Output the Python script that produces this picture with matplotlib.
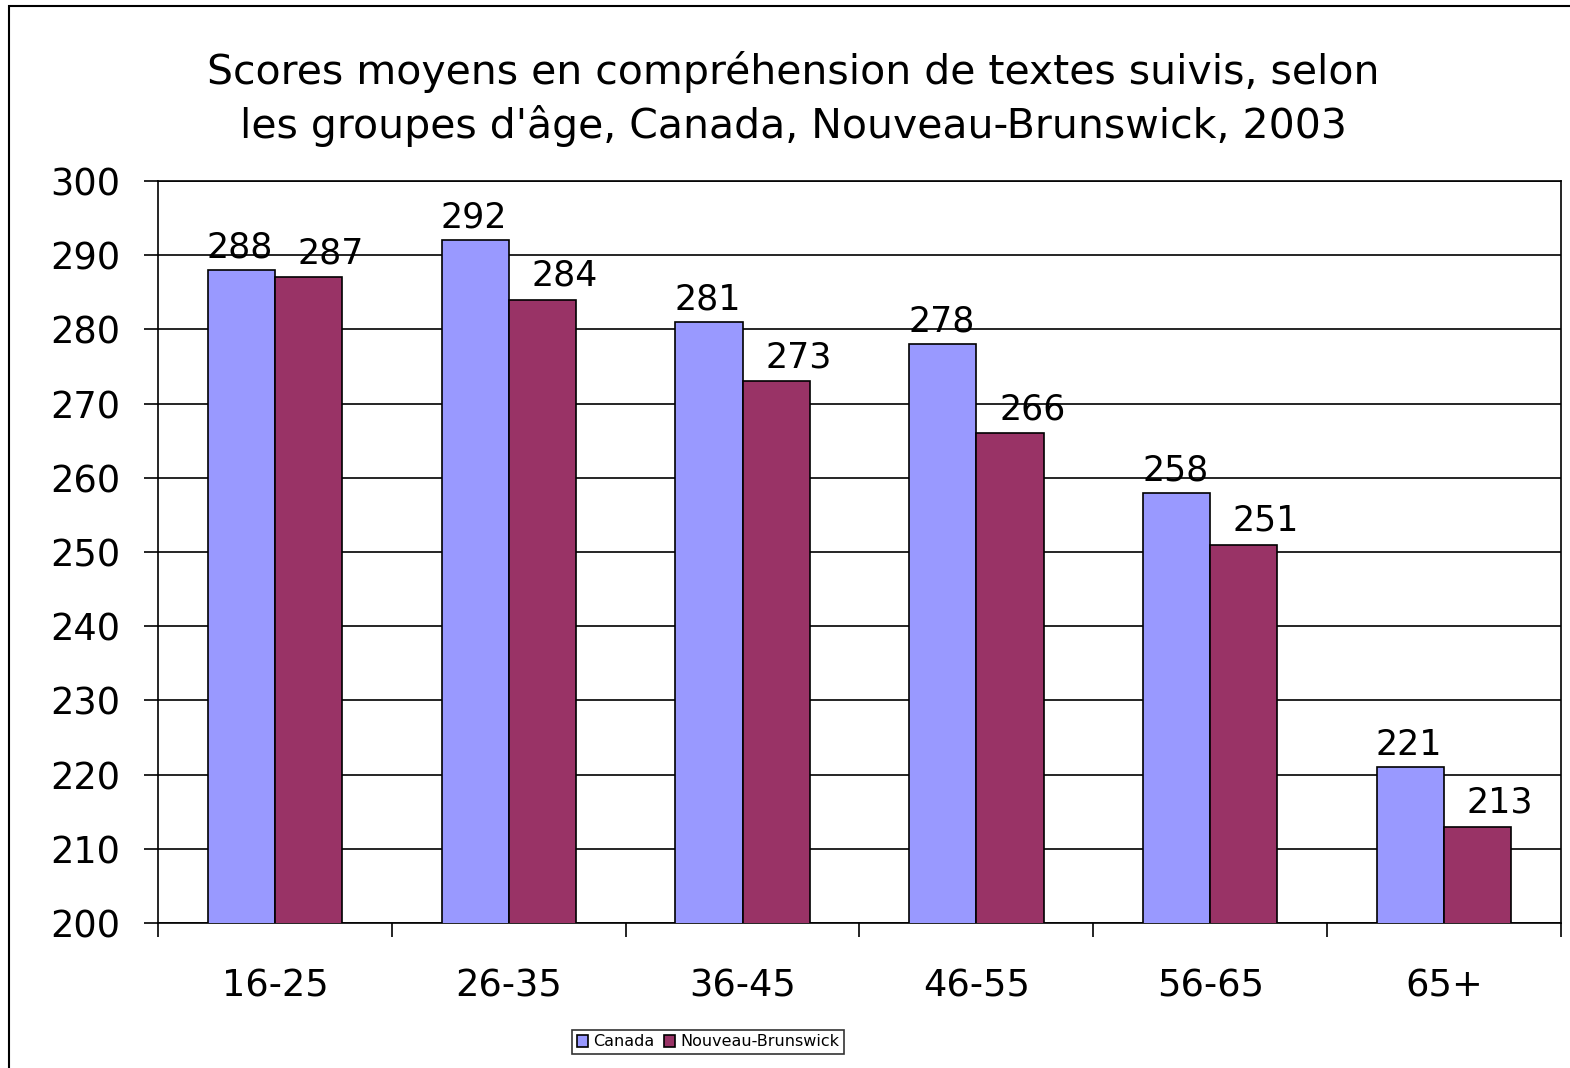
import matplotlib
matplotlib.use("Agg")
import matplotlib.pyplot as plt
from matplotlib.patches import Rectangle
import numpy as np

plt.rcParams['font.family'] = ['DejaVu Sans']

categories = ["16-25", "26-35", "36-45", "46-55", "56-65", "65+"]
canada = [288, 292, 281, 278, 258, 221]
nouveau_brunswick = [287, 284, 273, 266, 251, 213]
series_names = ["Canada", "Nouveau-Brunswick"]
yticks = [200, 210, 220, 230, 240, 250, 260, 270, 280, 290, 300]
title = "Scores moyens en compréhension de textes suivis, selon\nles groupes d'âge, Canada, Nouveau-Brunswick, 2003"

W, H = 1570, 1068
fig = plt.figure(figsize=(W / 100, H / 100), dpi=100)

# outer chart frame
fig.patches.append(Rectangle((9 / W, -0.5), 2, 1 - 6 / H + 0.5, transform=fig.transFigure,
                             fill=False, edgecolor='black', linewidth=1.5))

ax = fig.add_axes([158 / W, 1 - 923 / H, (1561 - 158) / W, (923 - 181) / H])
ax.set_axisbelow(True)

x = np.arange(len(categories))
bw = 0.287
b1 = ax.bar(x - bw / 2, canada, bw, color='#9999FF', edgecolor='black', linewidth=1.2,
            label=series_names[0], zorder=3)
b2 = ax.bar(x + bw / 2, nouveau_brunswick, bw, color='#993366', edgecolor='black', linewidth=1.2,
            label=series_names[1], zorder=3)

ax.set_ylim(200, 300)
ax.set_xlim(-0.5, len(categories) - 0.5)
ax.set_yticks(yticks)
ax.yaxis.grid(True, color='black', linewidth=1.2)
ax.tick_params(axis='y', labelsize=26.5, length=10, width=1.2, pad=17, direction='out')

ax.set_xticks(np.arange(-0.5, len(categories)), labels=[''] * (len(categories) + 1))
ax.set_xticks(x, labels=categories, minor=True)
ax.tick_params(axis='x', which='major', length=10, width=1.2, direction='out')
ax.tick_params(axis='x', which='minor', length=0, labelsize=26.5, pad=32)

for s in ax.spines.values():
    s.set_linewidth(1.2)
    s.set_color('black')

for rect, v in zip(b1, canada):
    ax.annotate(str(v), (rect.get_x() + rect.get_width() / 2, v), xytext=(-1, 4),
                textcoords='offset points', ha='center', va='bottom', fontsize=25)
for rect, v in zip(b2, nouveau_brunswick):
    ax.annotate(str(v), (rect.get_x() + rect.get_width() / 2, v), xytext=(16, 5),
                textcoords='offset points', ha='center', va='bottom', fontsize=25)

fig.text(793 / W, 1 - 99 / H, title, ha='center', va='center', fontsize=29.5, linespacing=1.38)

leg = fig.legend(loc='center', bbox_to_anchor=(708 / W, 1 - 1042 / H), ncol=2, fontsize=11.5,
                 frameon=True, fancybox=False, edgecolor='black', handlelength=0.7, handleheight=0.7,
                 handletextpad=0.3, columnspacing=0.6, borderpad=0.3, borderaxespad=0)
leg.get_frame().set_linewidth(1.2)

fig.savefig("out.png", dpi=100)
